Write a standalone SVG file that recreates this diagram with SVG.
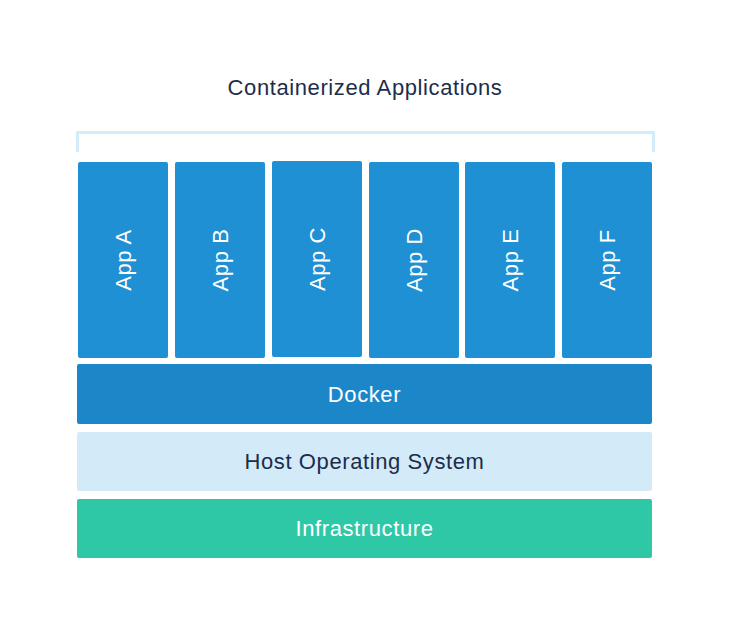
<svg xmlns="http://www.w3.org/2000/svg" width="730" height="632" viewBox="0 0 730 632">
<style>
.app{fill:#1f90d3}
.t{font-family:"Liberation Sans",Arial,sans-serif;fill:#fff;font-size:22px;letter-spacing:0.6px;text-anchor:middle}
</style>
<rect width="730" height="632" fill="#fff"/>
<text class="t" x="365" y="95" style="fill:#1c2d4b">Containerized Applications</text>
<g id="connectors"><path d="M77.5 152V132.5H653.5V152" fill="none" stroke="#d3ecfa" stroke-width="3"/></g>
<g id="appA"><rect class="app" x="78" y="162" width="90" height="196" rx="2"/><text class="t" transform="translate(131,260) rotate(-90)">App A</text></g>
<g id="appB"><rect class="app" x="175" y="162" width="90" height="196" rx="2"/><text class="t" transform="translate(228,260) rotate(-90)">App B</text></g>
<g id="appC"><rect class="app" x="272" y="161" width="90" height="196" rx="2"/><text class="t" transform="translate(325,259) rotate(-90)">App C</text></g>
<g id="appD"><rect class="app" x="369" y="162" width="90" height="196" rx="2"/><text class="t" transform="translate(422,260) rotate(-90)">App D</text></g>
<g id="appE"><rect class="app" x="465" y="162" width="90" height="196" rx="2"/><text class="t" transform="translate(518,260) rotate(-90)">App E</text></g>
<g id="appF"><rect class="app" x="562" y="162" width="90" height="196" rx="2"/><text class="t" transform="translate(615,260) rotate(-90)">App F</text></g>
<g id="docker"><rect x="77" y="364" width="575" height="60" rx="2" fill="#1b87c9"/><text class="t" x="364.5" y="402">Docker</text></g>
<g id="host"><rect x="77" y="432" width="575" height="59" rx="2" fill="#d3eaf9"/><text class="t" x="364.5" y="469" style="fill:#1c2d4b">Host Operating System</text></g>
<g id="infra"><rect x="77" y="499" width="575" height="59" rx="2" fill="#2ec8a7"/><text class="t" x="364.5" y="536">Infrastructure</text></g>
</svg>
